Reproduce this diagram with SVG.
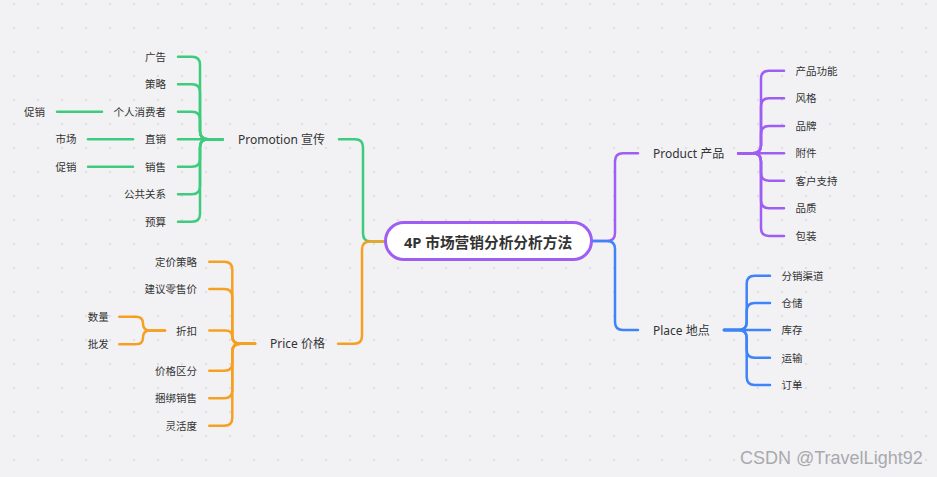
<svg xmlns="http://www.w3.org/2000/svg" width="937" height="477" viewBox="0 0 937 477">
<defs>
<pattern id="dots" x="0" y="0" width="24" height="24" patternUnits="userSpaceOnUse">
<rect x="13.3" y="3.3" width="1.4" height="1.4" fill="#c9c9ce"/>
</pattern>
<style>
.t{font-family:"Noto Sans","Noto Sans CJK SC",sans-serif;fill:#333;dominant-baseline:central}
.c{font-size:10.5px}
.l{font-size:12px}
.e{text-anchor:end}
.g{fill:none;stroke:#3fcb7e;stroke-width:2.5;stroke-linecap:round}
.o{fill:none;stroke:#f6a023;stroke-width:2.5;stroke-linecap:round}
.p{fill:none;stroke:#9f5ef3;stroke-width:2.5;stroke-linecap:round}
.b{fill:none;stroke:#3f83f8;stroke-width:2.5;stroke-linecap:round}
</style>
</defs>
<rect width="937" height="477" fill="#f2f2f5"/>
<rect width="937" height="477" fill="url(#dots)"/>

<g id="connectors">
<!-- main branches -->
<path class="g" d="M385,241.5 H371 Q363,241.5 363,233.5 V147.2 Q363,139.2 355,139.2 H339"/>
<path class="o" d="M385,241.5 H370 Q362,241.5 362,249.5 V335.7 Q362,343.7 354,343.7 H338"/>
<path class="p" d="M592,241 H607 Q615,241 615,233 V161.3 Q615,153.3 623,153.3 H638"/>
<path class="b" d="M592,241 H607 Q615,241 615,249 V322 Q615,330 623,330 H638"/>
<!-- promotion bracket -->
<path class="g" d="M222.7,139.2 H208 Q200,139.2 200,131.2 V64.7 Q200,56.7 192,56.7 H178"/>
<path class="g" d="M222.7,139.2 H208 Q200,139.2 200,131.2 V92.2 Q200,84.2 192,84.2 H178"/>
<path class="g" d="M222.7,139.2 H208 Q200,139.2 200,131.2 V119.7 Q200,111.7 192,111.7 H178"/>
<path class="g" d="M222.7,139.2 H178"/>
<path class="g" d="M222.7,139.2 H208 Q200,139.2 200,147.2 V158.7 Q200,166.7 192,166.7 H178"/>
<path class="g" d="M222.7,139.2 H208 Q200,139.2 200,147.2 V186.2 Q200,194.2 192,194.2 H178"/>
<path class="g" d="M222.7,139.2 H208 Q200,139.2 200,147.2 V213.7 Q200,221.7 192,221.7 H178"/>
<path class="g" d="M57,111.7 H102"/>
<path class="g" d="M88,139.2 H133"/>
<path class="g" d="M88,166.7 H133"/>
<!-- price bracket -->
<path class="o" d="M255,343.7 H240.3 Q232.3,343.7 232.3,335.7 V269.7 Q232.3,261.7 224.3,261.7 H209.3"/>
<path class="o" d="M255,343.7 H240.3 Q232.3,343.7 232.3,335.7 V297 Q232.3,289 224.3,289 H209.3"/>
<path class="o" d="M255,343.7 H240.3 Q232.3,343.7 232.3,337 Q232.3,330.5 225.3,330.5 H209.3"/>
<path class="o" d="M255,343.7 H240.3 Q232.3,343.7 232.3,351.7 V362.7 Q232.3,370.7 224.3,370.7 H209.3"/>
<path class="o" d="M255,343.7 H240.3 Q232.3,343.7 232.3,351.7 V390.3 Q232.3,398.3 224.3,398.3 H209.3"/>
<path class="o" d="M255,343.7 H240.3 Q232.3,343.7 232.3,351.7 V417.7 Q232.3,425.7 224.3,425.7 H209.3"/>
<path class="o" d="M165,330.5 H150 Q143,330.5 143,323.5 Q143,316.7 136,316.7 H119.3"/>
<path class="o" d="M165,330.5 H150 Q143,330.5 143,337.5 Q143,344.3 136,344.3 H119.3"/>
<!-- product bracket -->
<path class="p" d="M738.3,153.3 H753 Q761,153.3 761,145.3 V78.7 Q761,70.7 769,70.7 H784"/>
<path class="p" d="M738.3,153.3 H753 Q761,153.3 761,145.3 V106.3 Q761,98.3 769,98.3 H784"/>
<path class="p" d="M738.3,153.3 H753 Q761,153.3 761,145.3 V134 Q761,126 769,126 H784"/>
<path class="p" d="M738.3,153.3 H784"/>
<path class="p" d="M738.3,153.3 H753 Q761,153.3 761,161.3 V172.7 Q761,180.7 769,180.7 H784"/>
<path class="p" d="M738.3,153.3 H753 Q761,153.3 761,161.3 V200.3 Q761,208.3 769,208.3 H784"/>
<path class="p" d="M738.3,153.3 H753 Q761,153.3 761,161.3 V228 Q761,236 769,236 H784"/>
<!-- place bracket -->
<path class="b" d="M724,330 H738.7 Q746.7,330 746.7,322 V283.7 Q746.7,275.7 754.7,275.7 H770"/>
<path class="b" d="M724,330 H738.7 Q746.7,330 746.7,322 V311 Q746.7,303 754.7,303 H770"/>
<path class="b" d="M724,330 H770"/>
<path class="b" d="M724,330 H738.7 Q746.7,330 746.7,338 V349.7 Q746.7,357.7 754.7,357.7 H770"/>
<path class="b" d="M724,330 H738.7 Q746.7,330 746.7,338 V377 Q746.7,385 754.7,385 H770"/>
</g>

<g id="main">
<rect x="385.5" y="222.5" width="206" height="37" rx="18.5" fill="#fff" stroke="#9f5ef3" stroke-width="3"/>
<text class="t" x="488" y="241.5" text-anchor="middle" font-size="14.7" font-weight="bold" fill="#1a1a1a">4P 市场营销分析分析方法</text>
</g>

<g id="promotion">
<text class="t l" x="238" y="139.2">Promotion 宣传</text>
</g>
<g id="promotion-children">
<text class="t c e" x="166" y="56.7">广告</text>
<text class="t c e" x="166" y="84.2">策略</text>
<text class="t c e" x="166" y="111.7">个人消费者</text>
<text class="t c e" x="166" y="139.2">直销</text>
<text class="t c e" x="166" y="166.7">销售</text>
<text class="t c e" x="166" y="194.2">公共关系</text>
<text class="t c e" x="166" y="221.7">预算</text>
<text class="t c e" x="45" y="111.7">促销</text>
<text class="t c e" x="76.5" y="139.2">市场</text>
<text class="t c e" x="76.5" y="166.7">促销</text>
</g>

<g id="price">
<text class="t l" x="270" y="343.7">Price 价格</text>
</g>
<g id="price-children">
<text class="t c e" x="197" y="261.7">定价策略</text>
<text class="t c e" x="197" y="289">建议零售价</text>
<text class="t c e" x="197" y="330.5">折扣</text>
<text class="t c e" x="197" y="370.7">价格区分</text>
<text class="t c e" x="197" y="398.3">捆绑销售</text>
<text class="t c e" x="197" y="425.7">灵活度</text>
<text class="t c e" x="108.7" y="316.7">数量</text>
<text class="t c e" x="108.7" y="344.3">批发</text>
</g>

<g id="product">
<text class="t l" x="653" y="153.3">Product 产品</text>
</g>
<g id="product-children">
<text class="t c" x="795.5" y="70.7">产品功能</text>
<text class="t c" x="795.5" y="98.3">风格</text>
<text class="t c" x="795.5" y="126">品牌</text>
<text class="t c" x="795.5" y="153.3">附件</text>
<text class="t c" x="795.5" y="180.7">客户支持</text>
<text class="t c" x="795.5" y="208.3">品质</text>
<text class="t c" x="795.5" y="236">包装</text>
</g>

<g id="place">
<text class="t l" x="653" y="330">Place 地点</text>
</g>
<g id="place-children">
<text class="t c" x="781.5" y="275.7">分销渠道</text>
<text class="t c" x="781.5" y="303">仓储</text>
<text class="t c" x="781.5" y="330">库存</text>
<text class="t c" x="781.5" y="357.7">运输</text>
<text class="t c" x="781.5" y="385">订单</text>
</g>

<text x="740" y="464" font-family="Liberation Sans, Arial, sans-serif" font-size="18" fill="#a9a9ad">CSDN @TravelLight92</text>
</svg>
